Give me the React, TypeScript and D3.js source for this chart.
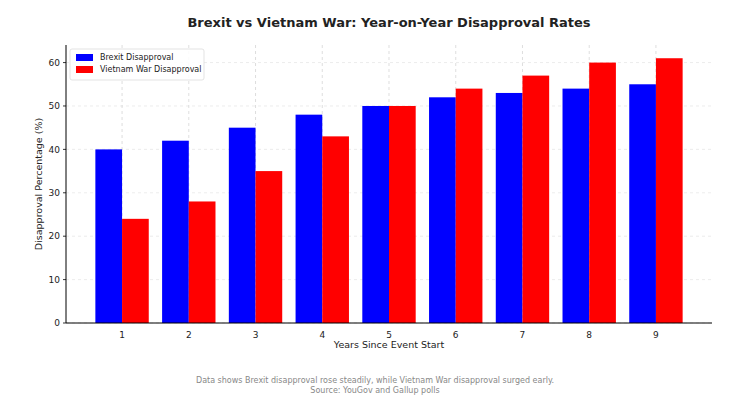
import React from "react";
import * as d3 from "d3";

const years = [1, 2, 3, 4, 5, 6, 7, 8, 9];
const brexit = [40, 42, 45, 48, 50, 52, 53, 54, 55];
const vietnam = [24, 28, 35, 43, 50, 54, 57, 60, 61];
const yTicks = [0, 10, 20, 30, 40, 50, 60];
const seriesNames = ["Brexit Disapproval", "Vietnam War Disapproval"];
const seriesColors = ["#0000ff", "#ff0000"];

export default function App() {
  const width = 750;
  const height = 419;
  const margin = { top: 45, right: 38, bottom: 96, left: 66 };
  const innerW = width - margin.left - margin.right;
  const innerH = height - margin.top - margin.bottom;
  const barW = 0.4;

  // matplotlib-like padding around the bar extent
  const x = d3.scaleLinear().domain([0.16, 9.84]).range([0, innerW]);
  const y = d3.scaleLinear().domain([0, 64.05]).range([innerH, 0]);
  const bw = x(barW) - x(0);

  const font = "'DejaVu Sans', sans-serif";

  return (
    <svg width={width} height={height} style={{ display: "block", margin: -8 }}>
      <rect width={width} height={height} fill="#fff" />
      <text x={width / 2 + 14} y={27} textAnchor="middle" fontFamily={font} fontSize={13} fontWeight="bold" fill="#222">
        Brexit vs Vietnam War: Year-on-Year Disapproval Rates
      </text>
      <g transform={`translate(${margin.left},${margin.top})`}>
        {/* grid */}
        {yTicks.map(t => (
          <line key={`gy${t}`} x1={0} x2={innerW} y1={y(t)} y2={y(t)} stroke="#e4e4e4" strokeWidth={0.7} strokeDasharray="3,3" />
        ))}
        {years.map(t => (
          <line key={`gx${t}`} x1={x(t)} x2={x(t)} y1={0} y2={innerH} stroke="#d0d0d0" strokeWidth={0.7} strokeDasharray="3,3" />
        ))}
        {/* bars */}
        {years.map((yr, i) => (
          <g key={`b${yr}`}>
            <rect x={x(yr - barW)} y={y(brexit[i])} width={bw} height={innerH - y(brexit[i])} fill={seriesColors[0]} />
            <rect x={x(yr)} y={y(vietnam[i])} width={bw} height={innerH - y(vietnam[i])} fill={seriesColors[1]} />
          </g>
        ))}
        {/* axes */}
        <line x1={0} x2={0} y1={0} y2={innerH} stroke="#000" strokeWidth={1} />
        <line x1={0} x2={innerW} y1={innerH} y2={innerH} stroke="#000" strokeWidth={1} />
        {yTicks.map(t => (
          <g key={`ty${t}`}>
            <line x1={-3} x2={0} y1={y(t)} y2={y(t)} stroke="#000" strokeWidth={0.8} />
            <text x={-6} y={y(t)} dy="0.35em" textAnchor="end" fontFamily={font} fontSize={9} fill="#222">{t}</text>
          </g>
        ))}
        {years.map(t => (
          <text key={`tx${t}`} x={x(t)} y={innerH + 15} textAnchor="middle" fontFamily={font} fontSize={9} fill="#222">{t}</text>
        ))}
        <text x={innerW / 2} y={innerH + 25} textAnchor="middle" fontFamily={font} fontSize={9.5} fill="#222">
          Years Since Event Start
        </text>
        <text transform={`translate(${-24},${innerH / 2}) rotate(-90)`} textAnchor="middle" fontFamily={font} fontSize={9.5} fill="#222">
          Disapproval Percentage (%)
        </text>
        {/* legend */}
        <g transform="translate(4,4)">
          <rect x={0} y={0} width={134} height={31} fill="#fff" fillOpacity={0.85} stroke="#dcdcdc" strokeWidth={0.8} rx={2} />
          {seriesNames.map((n, i) => (
            <g key={n} transform={`translate(6,${5 + i * 12})`}>
              <rect x={0} y={0} width={17} height={7} fill={seriesColors[i]} />
              <text x={24} y={3.5} dy="0.35em" fontFamily={font} fontSize={8} fill="#222">{n}</text>
            </g>
          ))}
        </g>
      </g>
      <text x={375} y={383} textAnchor="middle" fontFamily={font} fontSize={8} fill="#888">
        Data shows Brexit disapproval rose steadily, while Vietnam War disapproval surged early.
      </text>
      <text x={375} y={393} textAnchor="middle" fontFamily={font} fontSize={8} fill="#888">
        Source: YouGov and Gallup polls
      </text>
    </svg>
  );
}
